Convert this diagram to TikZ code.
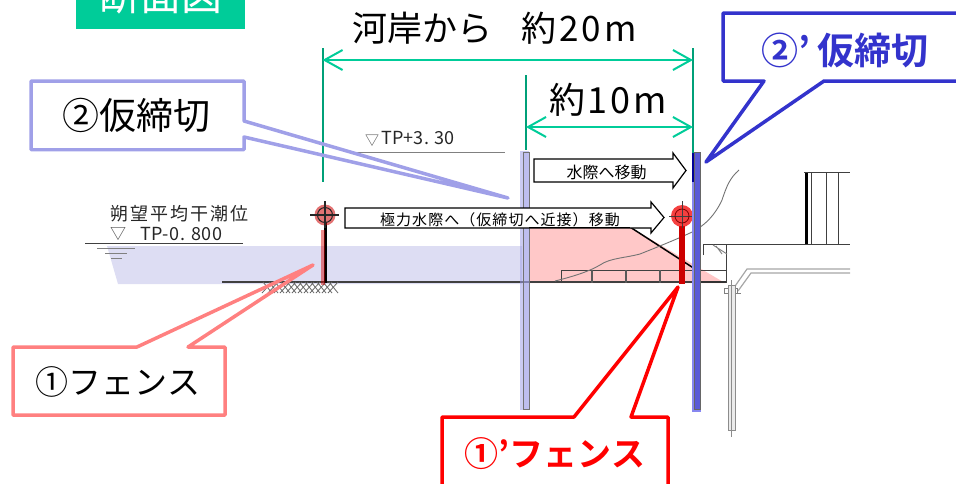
\documentclass[tikz,border=0pt]{standalone}
\usepackage{fontspec}
\setmainfont{Noto Sans CJK JP}[BoldFont=* Bold]
\usetikzlibrary{arrows.meta}
\definecolor{titlegreen}{RGB}{0,204,153}
\definecolor{dimgreen}{RGB}{0,204,153}
\definecolor{darkgreen}{RGB}{0,160,120}
\definecolor{calloutlav}{RGB}{160,160,232}
\definecolor{calloutblue}{RGB}{51,51,204}
\definecolor{calloutpink}{RGB}{255,128,128}
\definecolor{waterfill}{RGB}{221,221,243}
\definecolor{moundfill}{RGB}{255,200,200}
\definecolor{pileouter}{RGB}{135,135,240}
\definecolor{pileinner}{RGB}{90,90,215}
\newcommand{\fs}[1]{\fontsize{#1}{#1}\selectfont}
\tikzset{
  callout/.style={line width=3.5pt,line join=round},
  dimline/.style={draw=dimgreen,line width=2pt,{Straight Barb[length=18pt,width=20pt]}-{Straight Barb[length=18pt,width=20pt]}},
  guide/.style={draw=darkgreen,line width=2pt},
  cad/.style={draw=black!75,line width=0.9pt},
  cadlight/.style={draw=black!50,line width=0.9pt},
  cadlabel/.style={inner sep=0pt,text=black!85},
  movearrow/.style={draw=black,line width=1.2pt,fill=white,line join=miter},
  pilepart/.style={draw=black!55,line width=1pt},
}
\begin{document}
\begin{tikzpicture}[x=1pt,y=-1pt]
\useasboundingbox (0,0) rectangle (956,483);
\clip (0,0) rectangle (956,483);
% water and mound
\fill[waterfill] (107,246) -- (522,246) -- (522,284) -- (118,284) -- cycle;
\fill[moundfill] (529,227) -- (630,227) -- (725,283) -- (529,283) -- cycle;
% cad background
\draw[cad,line width=1.3pt] (222,282) -- (726,282);
\draw[black,line width=1.5pt] (529,227) -- (630,227) -- (695,269);
\draw[cad] (561,283) -- (561,270) -- (726,270);
\foreach \x in {592,626,660,693}{\draw[black!65,line width=1.3pt] (\x,270) -- (\x,283);}
\draw[black!55,line width=0.9pt] (555,281) .. controls (575,276) and (590,271) .. (600,265)
  .. controls (610,258) and (625,258) .. (640,254) .. controls (655,248) and (675,240) .. (690,233)
  .. controls (705,226) and (715,215) .. (722,200) .. controls (727,185) and (730,178) .. (739,170);
% tide marks
\draw[cad] (85,243) -- (243,243);
\draw[cadlight] (97,248) -- (135,248) (105,253) -- (127,253) (111,258) -- (122,258);
\node[cadlabel,anchor=west] (tidelabel) at (110,214) {\fs{18}\addfontfeatures{LetterSpace=11}朔望平均干潮位};
\node[cadlabel,anchor=west,text=black!70] (tidemark) at (110,234) {\fs{16}▽};
\node[cadlabel,anchor=west] (tidevalue) at (140,234) {\fs{18}\addfontfeatures{LetterSpace=3}TP-0. 800};
\node[cadlabel,anchor=west,text=black!70] (tpmark) at (365,141) {\fs{14}▽};
\node[cadlabel,anchor=west] (tplabel) at (381,138) {\fs{18}\addfontfeatures{LetterSpace=1}TP+3. 30};
\draw[cadlight] (352,152) -- (505,152);
% ground hatch
\foreach \x in {262,268,...,328}{\draw[black!60,line width=0.8pt] (\x,293) -- (\x+10,282) (\x+10,293) -- (\x+1,282);}
% right structure
\draw[cad] (703,255) -- (703,244) -- (850,244);
\draw[black,line width=3pt] (806,172) -- (806,244);
\draw[cad] (804,172) -- (850,172) (811,172) -- (811,244) (826,172) -- (826,244) (838,172) -- (838,244);
\draw[cad] (726,244) -- (726,283);
\draw[black!80,line width=1.6pt] (695,282) -- (726,282);
\draw[cadlight] (713,245) -- (727,254) (716,246) -- (722,254);
\draw[black!35,line width=1.2pt] (733,289) -- (747,269) -- (850,269) (738,291) -- (751,273) -- (850,273);
\draw[cadlight] (724,288) rectangle (737,293);
\draw[cadlight] (737,293) -- (741,293);
\draw[black!45,line width=1pt,fill=black!8] (728,285) rectangle (735,430);
\draw[black!45,line width=0.8pt] (731.5,280) -- (731.5,437);
% first fence
\draw[black,line width=3pt] (325,222) -- (325,283);
\fill[red!85!black,opacity=.45] (321,230) rectangle (325,285);
\fill[red!80!black,opacity=.55] (325,215) circle[radius=10.5];
\draw[black!85,line width=1.1pt] (310,215) -- (339,215) (325,201) -- (325,228);
\draw[black!85,line width=1pt] (325,215) circle[radius=7.5];
\coordinate (fenceone) at (313,265);
% second fence
\fill[red!80!black] (679,226) rectangle (685,283.5);
\fill[red!95!black,opacity=.75] (682,216) circle[radius=11];
\draw[black!75,line width=1pt] (669,216) -- (697,216) (682,201) -- (682,228);
\draw[red!50!black,line width=.8pt] (682,216) circle[radius=7];
\coordinate (fencetwo) at (678,287);
% sheet piles
\fill[calloutlav,opacity=.55] (520,151) rectangle (529,410);
\draw[pilepart,fill=calloutlav,fill opacity=.3] (523,152) rectangle (529,409);
\fill[pileouter] (692,153) rectangle (701,412);
\draw[draw=black!60,line width=1pt,fill=pileinner] (694.5,152) rectangle (700,409);
\coordinate (pileone) at (508,198);
\coordinate (piletwo) at (706,162);
% move arrows
\draw[movearrow] (345,208) -- (651,208) -- (651,202) -- (664,217.5) -- (651,233) -- (651,228) -- (345,228) -- cycle;
\node[inner sep=0pt,text=black] (movefar) at (500,219.5) {\fs{15}\addfontfeatures{LetterSpace=7}極力水際へ（仮締切へ近接）移動};
\draw[movearrow] (534,159) -- (673,159) -- (673,153) -- (686,170.5) -- (673,188) -- (673,182) -- (534,182) -- cycle;
\node[inner sep=0pt,text=black] (movenear) at (606.5,172) {\fs{16}水際へ移動};
% mound edge seen over arrow
\draw[black,line width=1.5pt] (529,227.5) -- (630,227.5);
% guides and dimension arrows
\coordinate (dimAl) at (322.5,60); \coordinate (dimAr) at (693,60);
\coordinate (dimBl) at (526,127); \coordinate (dimBr) at (693,127);
\draw[guide] (322.5,48) -- (322.5,182);
\draw[guide] (526,75) -- (526,150);
\draw[guide] (693,48) -- (693,153);
\draw[draw=blue!60!black,line width=2pt] (693,153) -- (693,182);
\draw[dimline] (dimAl) -- (dimAr);
\draw[dimline] (dimBl) -- (dimBr);
\node[inner sep=0pt] (dimAl2) at (422,28) {\fs{35}河岸から};
\node[inner sep=0pt] (dimAt) at (579,28) {\fs{35}\addfontfeatures{LetterSpace=9}約20m};
\node[inner sep=0pt] (dimBt) at (608,100) {\fs{36}\addfontfeatures{LetterSpace=8}約10m};
% title
\node[fill=titlegreen,minimum width=169pt,minimum height=50pt,inner sep=0pt,anchor=south west] (title) at (76,29) {};
\node[inner sep=0pt,text=white] (titletext) at (160.5,-5) {\fs{41}断面図};
% callouts
\draw[callout,draw=calloutlav] (31,81) -- (244,81) -- (244,121) -- (pileone) -- (244,137) -- (244,149.5) -- (31,149.5) -- cycle;
\fill[white] (33,83) rectangle (242,147.5);
\node[inner sep=0pt] (cone) at (136,115) {\fs{37}②仮締切};
\draw[callout,draw=calloutblue] (723,13) -- (960,13) -- (960,81) -- (824,81) -- (piletwo) -- (764,81) -- (723,81) -- cycle;
\node[inner sep=0pt,text=calloutblue] (ctwo) at (845,50) {\fs{37}\bfseries ②’\,仮締切};
\draw[callout,draw=calloutpink] (13,347) -- (137,347) -- (fenceone) -- (188,347) -- (225,347) -- (225,415) -- (13,415) -- cycle;
\fill[white] (15,349) rectangle (223,413);
\node[inner sep=0pt] (cthree) at (118,382) {\fs{33}①フェンス};
\draw[callout,draw=red] (442,490) -- (442,417) -- (574,417) -- (fencetwo) -- (631,417) -- (668,417) -- (668,490);
\node[inner sep=0pt,text=red] (cfour) at (555,454) {\fs{34}\bfseries ①’フェンス};
\end{tikzpicture}
\end{document}
